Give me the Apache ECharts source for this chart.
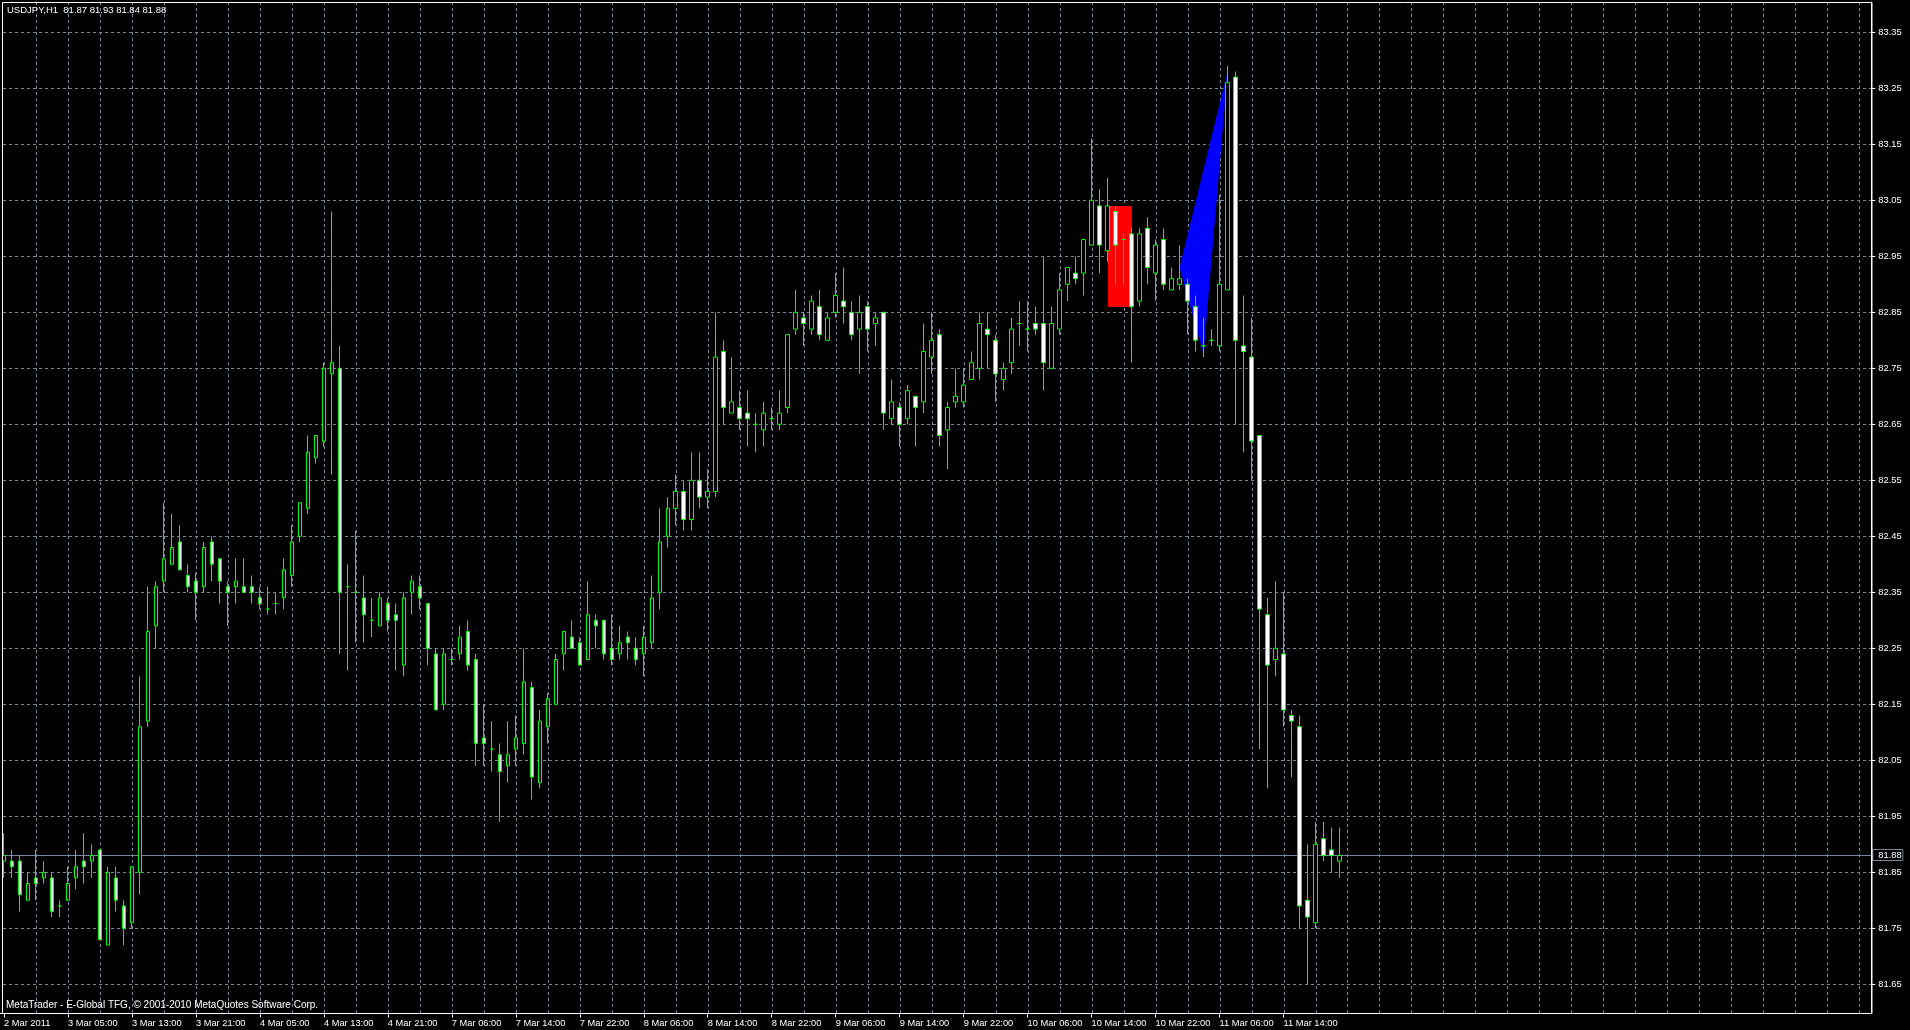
<!DOCTYPE html>
<html><head><meta charset="utf-8">
<script src="https://cdn.jsdelivr.net/npm/echarts@6/dist/echarts.min.js"></script>
<style>html,body{margin:0;padding:0;background:#000;overflow:hidden}#c{width:1910px;height:1030px}</style>
</head><body><div id="c"></div>
<script>
const chartTitle = 'USDJPY,H1  81.87 81.93 81.84 81.88';
const copyrightText = 'MetaTrader - E-Global TFG, \u00a9 2001-2010 MetaQuotes Software Corp.';
const tickLabels = ['2 Mar 2011','3 Mar 05:00','3 Mar 13:00','3 Mar 21:00','4 Mar 05:00','4 Mar 13:00','4 Mar 21:00','7 Mar 06:00','7 Mar 14:00','7 Mar 22:00','8 Mar 06:00','8 Mar 14:00','8 Mar 22:00','9 Mar 06:00','9 Mar 14:00','9 Mar 22:00','10 Mar 06:00','10 Mar 14:00','10 Mar 22:00','11 Mar 06:00','11 Mar 14:00'];
const priceTicks = [81.65,81.75,81.85,81.95,82.05,82.15,82.25,82.35,82.45,82.55,82.65,82.75,82.85,82.95,83.05,83.15,83.25,83.35];
const lastPrice = 81.88;

const openP = [81.87,81.87,81.87,81.80,81.84,81.84,81.84,81.79,81.80,81.84,
81.87,81.87,81.89,81.72,81.84,81.79,81.76,81.85,82.12,82.29,
82.37,82.40,82.44,82.38,82.37,82.36,82.44,82.41,82.36,82.36,
82.36,82.36,82.34,82.32,82.33,82.34,82.38,82.45,82.50,82.59,
82.62,82.74,82.75,82.36,82.35,82.34,82.30,82.29,82.33,82.31,
82.22,82.35,82.36,82.33,82.24,82.15,82.23,82.24,82.28,82.23,
82.09,82.07,82.06,82.04,82.07,82.08,82.18,82.01,82.11,82.15,
82.24,82.27,82.26,82.23,82.30,82.30,82.25,82.24,82.27,82.25,
82.24,82.26,82.35,82.45,82.50,82.53,82.48,82.55,82.52,82.53,
82.78,82.67,82.68,82.67,82.65,82.64,82.66,82.65,82.68,82.82,
82.84,82.82,82.86,82.80,82.85,82.87,82.85,82.82,82.86,82.83,
82.85,82.66,82.68,82.66,82.70,82.69,82.77,82.81,82.64,82.69,
82.69,82.73,82.75,82.82,82.80,82.73,82.76,82.83,82.82,82.83,
82.83,82.75,82.82,82.90,82.92,82.92,82.97,83.04,82.96,83.03,
82.98,82.99,82.87,83.00,82.92,82.98,82.89,82.90,82.90,82.86,
82.79,82.80,82.79,82.89,83.27,82.79,82.77,82.63,82.31,82.23,
82.24,82.13,82.11,81.80,81.76,81.91,81.89,81.87];
const highP = [81.92,81.89,81.88,81.85,81.89,81.87,81.85,81.80,81.86,81.89,
81.92,81.90,81.89,81.86,81.86,81.80,81.86,82.20,82.36,82.37,
82.51,82.49,82.47,82.40,82.385,82.44,82.45,82.41,82.37,82.41,
82.41,82.38,82.36,82.36,82.35,82.41,82.47,82.51,82.63,82.63,
82.76,83.03,82.79,82.40,82.46,82.38,82.34,82.35,82.34,82.33,
82.35,82.38,82.38,82.33,82.25,82.25,82.25,82.29,82.30,82.24,
82.15,82.12,82.08,82.12,82.13,82.25,82.19,82.14,82.17,82.24,
82.28,82.30,82.27,82.37,82.31,82.30,82.31,82.29,82.28,82.27,
82.29,82.38,82.50,82.52,82.56,82.55,82.60,82.60,82.57,82.85,
82.80,82.77,82.71,82.71,82.67,82.69,82.68,82.71,82.81,82.89,
82.85,82.88,82.89,82.85,82.92,82.93,82.87,82.88,82.87,82.85,
82.85,82.73,82.69,82.72,82.70,82.83,82.85,82.82,82.69,82.75,
82.75,82.78,82.85,82.85,82.81,82.76,82.84,82.87,82.87,82.86,
82.95,82.86,82.92,82.93,82.95,82.98,83.16,83.07,83.09,83.04,
82.99,83.00,83.00,83.02,82.98,83.00,82.93,82.97,82.91,82.88,
82.84,82.82,83.06,83.29,83.28,82.88,82.84,82.63,82.34,82.37,
82.35,82.14,82.13,81.90,81.94,81.94,81.93,81.93];
const lowP = [81.84,81.84,81.78,81.80,81.80,81.83,81.77,81.77,81.80,81.82,
81.83,81.84,81.73,81.72,81.78,81.72,81.75,81.81,82.11,82.25,
82.35,82.40,82.39,82.35,82.30,82.35,82.37,82.33,82.29,82.33,
82.35,82.33,82.32,82.31,82.31,82.32,82.36,82.44,82.49,82.58,
82.61,82.56,82.24,82.21,82.26,82.26,82.27,82.29,82.28,82.21,
82.20,82.31,82.32,82.22,82.14,82.14,82.22,82.23,82.21,82.04,
82.04,82.03,81.94,82.01,82.04,82.06,81.98,82.00,82.08,82.15,
82.21,82.25,82.22,82.23,82.25,82.23,82.22,82.23,82.23,82.22,
82.20,82.25,82.32,82.43,82.47,82.46,82.46,82.50,82.50,82.52,
82.65,82.67,82.64,82.61,82.60,82.61,82.64,82.64,82.67,82.81,
82.79,82.81,82.80,82.80,82.84,82.83,82.80,82.74,82.78,82.79,
82.64,82.65,82.61,82.65,82.61,82.67,82.74,82.61,82.57,82.68,
82.68,82.73,82.73,82.75,82.69,82.71,82.74,82.79,82.78,82.81,
82.71,82.75,82.81,82.87,82.90,82.88,82.97,82.92,82.94,82.90,
82.90,82.76,82.86,82.90,82.87,82.89,82.89,82.89,82.81,82.78,
82.77,82.79,82.78,82.89,82.65,82.60,82.55,82.07,82.00,82.20,
82.11,82.02,81.75,81.65,81.75,81.87,81.85,81.84];
const closeP = [81.88,81.86,81.81,81.83,81.83,81.85,81.78,81.79,81.83,81.86,
81.86,81.88,81.73,81.85,81.80,81.75,81.86,82.11,82.28,82.36,
82.41,82.43,82.39,82.36,82.35,82.43,82.40,82.37,82.35,82.37,
82.35,82.35,82.33,82.32,82.33,82.39,82.44,82.51,82.60,82.63,
82.75,82.76,82.35,82.36,82.35,82.31,82.30,82.34,82.30,82.30,
82.34,82.37,82.34,82.25,82.14,82.24,82.23,82.27,82.22,82.08,
82.08,82.07,82.03,82.06,82.09,82.19,82.02,82.12,82.16,82.23,
82.28,82.25,82.22,82.31,82.29,82.24,82.23,82.26,82.26,82.23,
82.27,82.34,82.44,82.50,82.53,82.48,82.55,82.52,82.53,82.77,
82.68,82.69,82.66,82.66,82.65,82.67,82.66,82.67,82.81,82.85,
82.83,82.87,82.81,82.84,82.88,82.86,82.81,82.85,82.82,82.84,
82.67,82.69,82.65,82.71,82.68,82.78,82.80,82.63,82.68,82.70,
82.72,82.76,82.83,82.81,82.74,82.75,82.82,82.83,82.82,82.82,
82.76,82.83,82.89,82.93,82.91,82.98,83.05,82.97,83.04,82.97,
82.98,82.86,82.99,82.93,82.97,82.90,82.91,82.91,82.87,82.80,
82.79,82.80,82.90,83.26,82.80,82.78,82.62,82.32,82.22,82.25,
82.14,82.12,81.79,81.77,81.90,81.88,81.88,81.88];

// chart objects (bar index, price)
const rectObj = [[138, 83.04], [141, 82.86]];
const triObj = [[147, 82.93], [153, 83.28], [150, 82.775]];

const SLOTS = 234;
const categories = [];
for (let i = 0; i < SLOTS; i++) categories.push(i % 8 === 0 && tickLabels[i / 8] ? tickLabels[i / 8] : '');
const candleData = openP.map((o, i) => [o, closeP[i], lowP[i], highP[i]]);
const vGridIdx = [];
for (let i = 4; i < SLOTS; i += 4) vGridIdx.push(i);

const GRID_TOP = 2, GRID_H = 1011.5, PX_PER_UNIT = 560, REF_P = 81.85, REF_Y = 872.3;
const yMax = REF_P + (REF_Y - GRID_TOP) / PX_PER_UNIT;
const yMin = REF_P - (GRID_TOP + GRID_H - REF_Y) / PX_PER_UNIT;

const FONT = '"Liberation Sans", Arial, sans-serif';
const GRID_COLOR = '#778899';
const crisp = v => Math.round(v) + 0.5;

const chart = echarts.init(document.getElementById('c'), null, {renderer: 'canvas'});
chart.setOption({
  backgroundColor: '#000000',
  animation: false,
  grid: {left: -0.7, top: GRID_TOP, width: SLOTS * 8, height: GRID_H, containLabel: false},
  xAxis: {
    type: 'category', data: categories, boundaryGap: true,
    axisLine: {show: true, lineStyle: {color: '#ffffff', width: 1}},
    axisTick: {show: true, alignWithLabel: true, length: 4, interval: (i) => categories[i] !== '', lineStyle: {color: '#ffffff'}},
    axisLabel: {show: true, interval: (i) => categories[i] !== '', align: 'left', margin: 5, color: '#ffffff', fontSize: 9.3, fontFamily: FONT},
    splitLine: {show: false}
  },
  yAxis: {
    type: 'value', position: 'right', min: yMin, max: yMax, scale: true,
    axisLine: {show: true, lineStyle: {color: '#ffffff', width: 1}},
    axisTick: {show: true, length: 4, customValues: priceTicks, lineStyle: {color: '#ffffff'}},
    axisLabel: {show: true, customValues: priceTicks, margin: 7, color: '#ffffff', fontSize: 9.3, fontFamily: FONT, formatter: v => v.toFixed(2)},
    splitLine: {show: false}
  },
  graphic: [
    {type: 'rect', shape: {x: 2.5, y: 2.5, width: 1869.5, height: 1011}, style: {fill: null, stroke: '#ffffff', lineWidth: 1}, silent: true, z: 100},
    {type: 'text', x: 7, y: 10, style: {text: chartTitle, fill: '#ffffff', font: '9.5px ' + FONT, verticalAlign: 'middle'}, silent: true, z: 100},
    {type: 'text', x: 6, y: 1005, style: {text: copyrightText, fill: '#ffffff', font: '10px ' + FONT, verticalAlign: 'middle'}, silent: true, z: 100}
  ],
  series: [
    {
      type: 'custom', name: 'hgrid', z: 0, silent: true, clip: false,
      data: priceTicks.map(p => [0, p]), encode: {x: 0, y: 1},
      renderItem: (params, api) => {
        const cs = params.coordSys;
        const y = crisp(api.coord([0, api.value(1)])[1]);
        return {type: 'line', shape: {x1: 3, y1: y, x2: cs.x + cs.width, y2: y}, style: {stroke: GRID_COLOR, lineWidth: 1, lineDash: [3, 3]}};
      }
    },
    {
      type: 'custom', name: 'vgrid', z: 0, silent: true, clip: false,
      data: vGridIdx.map(i => [i, priceTicks[0]]), encode: {x: 0, y: 1},
      renderItem: (params, api) => {
        const cs = params.coordSys;
        const x = crisp(api.coord([api.value(0), api.value(1)])[0]);
        return {type: 'line', shape: {x1: x, y1: cs.y, x2: x, y2: cs.y + cs.height}, style: {stroke: GRID_COLOR, lineWidth: 1, lineDash: [3, 3]}};
      }
    },
    {
      type: 'custom', name: 'rectangle', z: 1, silent: true,
      data: [[rectObj[0][0], rectObj[0][1]]], encode: {x: 0, y: 1},
      renderItem: (params, api) => {
        const p1 = api.coord(rectObj[0]);
        const p2 = api.coord(rectObj[1]);
        return {type: 'rect', shape: {x: Math.round(p1[0]), y: Math.round(p1[1]), width: Math.round(p2[0]) - Math.round(p1[0]), height: Math.round(p2[1]) - Math.round(p1[1])}, style: {fill: '#ff0000'}};
      }
    },
    {
      type: 'custom', name: 'triangle', z: 1, silent: true,
      data: [[triObj[0][0], triObj[0][1]]], encode: {x: 0, y: 1},
      renderItem: (params, api) => {
        return {type: 'polygon', shape: {points: triObj.map(p => api.coord(p))}, style: {fill: '#0000ff'}};
      }
    },
    {
      type: 'custom', name: 'bidline', z: 2, silent: true, clip: false,
      data: [[0, lastPrice]], encode: {x: 0, y: 1},
      renderItem: (params, api) => {
        const cs = params.coordSys;
        const y = crisp(api.coord([0, api.value(1)])[1]);
        return {type: 'group', children: [
          {type: 'line', shape: {x1: 3, y1: y, x2: cs.x + cs.width, y2: y}, style: {stroke: GRID_COLOR, lineWidth: 1}},
          {type: 'rect', shape: {x: cs.x + cs.width + 1.5, y: y - 6, width: 30, height: 11}, style: {fill: '#000000', stroke: GRID_COLOR, lineWidth: 1}},
          {type: 'text', x: cs.x + cs.width + 7, y: y, style: {text: lastPrice.toFixed(2), fill: '#ffffff', font: '9.3px ' + FONT, verticalAlign: 'middle'}}
        ]};
      }
    },
    {
      type: 'candlestick', name: 'USDJPY', z: 3, data: candleData, barWidth: 4,
      itemStyle: {color: '#000000', color0: '#ffffff', borderColor: '#00ff00', borderColor0: '#00ff00', borderColorDoji: '#00ff00', borderWidth: 1}
    }
  ]
});
</script>
</body></html>
